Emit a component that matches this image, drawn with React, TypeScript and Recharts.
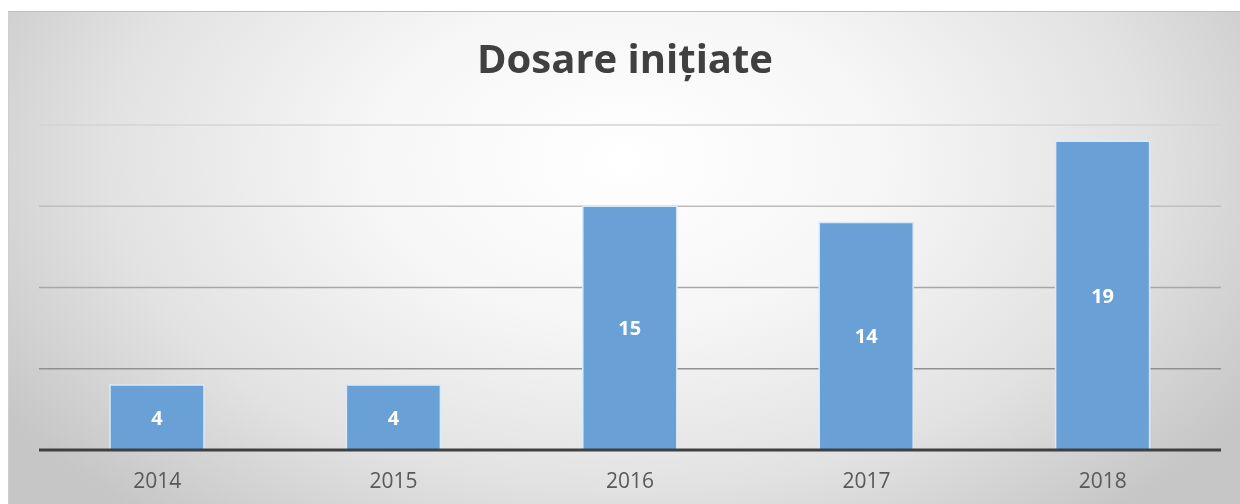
import React from "react";
import { BarChart, Bar, XAxis, YAxis, CartesianGrid, LabelList } from "recharts";

const title = "Dosare inițiate";
const years = ["2014", "2015", "2016", "2017", "2018"];
const cases = [4, 4, 15, 14, 19];
const yTicks = [0, 5, 10, 15, 20];

const data = years.map((y, i) => ({ year: y, value: cases[i] }));

export default function App() {
  return (
    <div
      style={{
        position: "fixed",
        left: 8,
        top: 11,
        width: 1232,
        height: 493,
        borderTop: "1.5px solid #bdbdbd",
        borderLeft: "1px solid #cfcfcf",
        background:
          "radial-gradient(ellipse 60% 95% at 50% 30%, #ffffff 0%, #f6f6f6 35%, #e2e2e2 70%, #c6c6c6 100%)",
        fontFamily: "'Open Sans', sans-serif",
        overflow: "hidden",
      }}
    >
      <div
        style={{
          position: "absolute",
          left: 0,
          width: 1232,
          top: 18,
          textAlign: "center",
          fontSize: 40,
          fontWeight: 700,
          color: "#404040",
          lineHeight: "56px",
        }}
      >
        {title}
      </div>
      <BarChart
        width={1232}
        height={493}
        data={data}
        margin={{ top: 113, right: 20, bottom: 25, left: 30 }}
        style={{ position: "absolute", left: 0, top: 0 }}
      >
        <defs>
          <linearGradient id="gridGrad" gradientUnits="userSpaceOnUse" x1="0" y1="113" x2="0" y2="440">
            <stop offset="0%" stopColor="#d4d4d4" />
            <stop offset="100%" stopColor="#7a7a7a" />
          </linearGradient>
        </defs>
        <CartesianGrid vertical={false} stroke="url(#gridGrad)" strokeWidth={1.5} />
        <YAxis hide domain={[0, 20]} ticks={yTicks} allowDataOverflow />
        <XAxis
          dataKey="year"
          height={30}
          tickLine={false}
          axisLine={{ stroke: "#404040", strokeWidth: 3 }}
          tickMargin={17}
          tick={{ fill: "#595959", fontSize: 21, fontFamily: "'Open Sans', sans-serif" }}
        />
        <Bar dataKey="value" fill="#69a0d6" stroke="#dbeaf8" strokeWidth={1.5} barSize={94} isAnimationActive={false}>
          <LabelList
            dataKey="value"
            position="center"
            fill="#ffffff"
            style={{ fontSize: 20, fontWeight: 700, fontFamily: "'Open Sans', sans-serif" }}
          />
        </Bar>
      </BarChart>
    </div>
  );
}
